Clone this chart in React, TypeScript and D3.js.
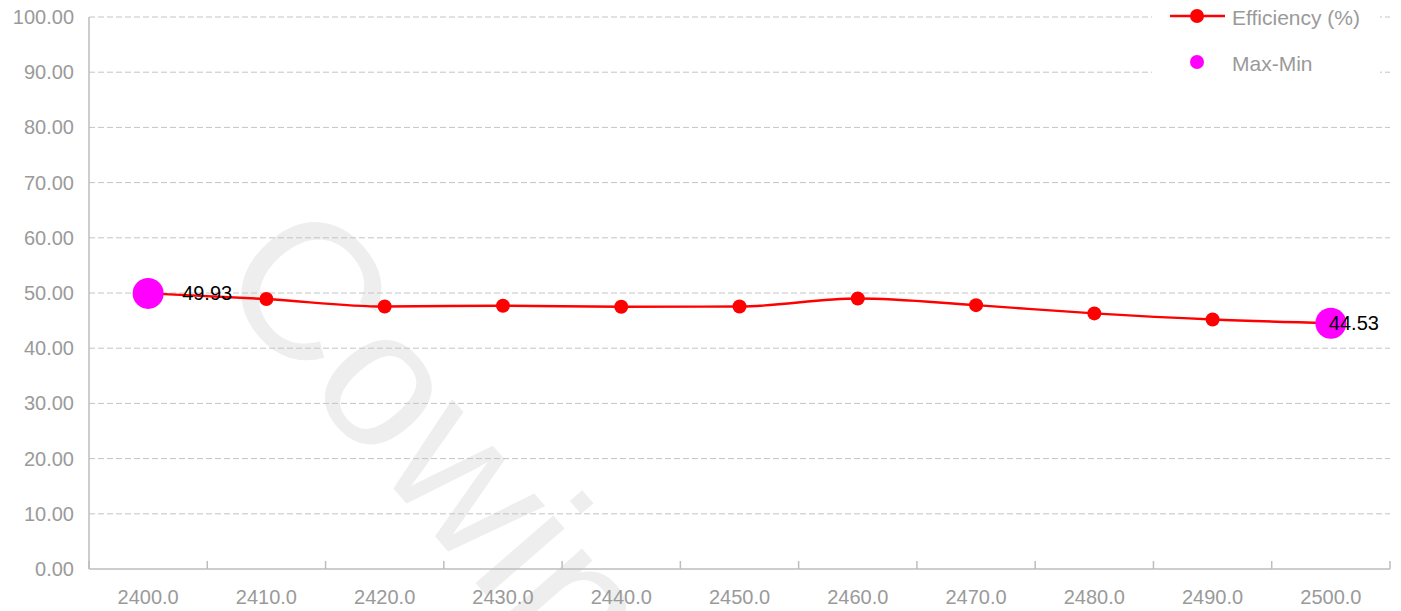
import React from "react";
import * as d3 from "d3";

const categories = ["2400.0","2410.0","2420.0","2430.0","2440.0","2450.0","2460.0","2470.0","2480.0","2490.0","2500.0"];
const efficiency = [49.93, 48.9, 47.55, 47.7, 47.5, 47.55, 49.0, 47.8, 46.3, 45.2, 44.53];
const yTicks = [0,10,20,30,40,50,60,70,80,90,100];
const maxMinIdx = [0, 10];
const legendLabels = ["Efficiency (%)", "Max-Min"];

const W = 1401, H = 611;
const M = { left: 89, right: 1390, top: 17, bottom: 569 };
const FONT = "Arial, 'Liberation Sans', sans-serif";

export default function App() {
  const x = d3.scaleBand<string>().domain(categories).range([M.left, M.right]).padding(0);
  const y = d3.scaleLinear().domain([0, 100]).range([M.bottom, M.top]);
  const cx = (i: number) => (x(categories[i]) as number) + x.bandwidth() / 2;
  const line = d3.line<number>().x((_, i) => cx(i)).y(d => y(d)).curve(d3.curveMonotoneX);
  const boundaries = categories.map(c => x(c) as number).concat([M.right]);

  return (
    <svg width={W} height={H} style={{ position: "absolute", left: 0, top: 0, display: "block", background: "#fff" }}>
      <g transform="translate(318,186) rotate(49)">
        <text x={0} y={0} fontFamily={FONT} fontSize={195} fill="#eeeeee" dominantBaseline="hanging">Cowin</text>
      </g>
      {yTicks.map(t => (
        <g key={t}>
          {t > 0 && <line x1={M.left} x2={M.right} y1={y(t)} y2={y(t)} stroke="#c4c4c4" strokeWidth={1} strokeDasharray="6,3" />}
          <text x={74} y={y(t)} textAnchor="end" dominantBaseline="central" fontFamily={FONT} fontSize={20} fill="#9a9a9a">{t.toFixed(2)}</text>
        </g>
      ))}
      <line x1={M.left} x2={M.left} y1={M.top} y2={M.bottom} stroke="#bdbdbd" strokeWidth={1.5} />
      <line x1={M.left} x2={M.right} y1={M.bottom} y2={M.bottom} stroke="#bdbdbd" strokeWidth={1.5} />
      {boundaries.map((b, i) => (
        <line key={i} x1={b} x2={b} y1={M.bottom} y2={M.bottom - 8} stroke="#bdbdbd" strokeWidth={1.5} />
      ))}
      {categories.map((c, i) => (
        <text key={c} x={cx(i)} y={604} textAnchor="middle" fontFamily={FONT} fontSize={20} fill="#9a9a9a">{c}</text>
      ))}
      <path d={line(efficiency) || ""} fill="none" stroke="#ff0000" strokeWidth={2.4} />
      {efficiency.map((v, i) => (
        <circle key={i} cx={cx(i)} cy={y(v)} r={7} fill="#ff0000" />
      ))}
      {maxMinIdx.map((i, k) => (
        <g key={i}>
          <circle cx={cx(i)} cy={y(efficiency[i])} r={15.5} fill="#ff00ff" />
          <text x={cx(i) + (k === 0 ? 34 : -2)} y={y(efficiency[i])} dominantBaseline="central" fontFamily={FONT} fontSize={20} fill="#000">{efficiency[i].toFixed(2)}</text>
        </g>
      ))}
      <rect x={1152} y={0} width={228} height={90} fill="#fff" />
      <line x1={1170} x2={1225} y1={16} y2={16} stroke="#ff0000" strokeWidth={2.4} />
      <circle cx={1197} cy={16} r={7} fill="#ff0000" />
      <text x={1232} y={17} dominantBaseline="central" fontFamily={FONT} fontSize={21} fill="#9a9a9a">{legendLabels[0]}</text>
      <circle cx={1197} cy={62} r={7} fill="#ff00ff" />
      <text x={1232} y={63} dominantBaseline="central" fontFamily={FONT} fontSize={21} fill="#9a9a9a">{legendLabels[1]}</text>
    </svg>
  );
}
